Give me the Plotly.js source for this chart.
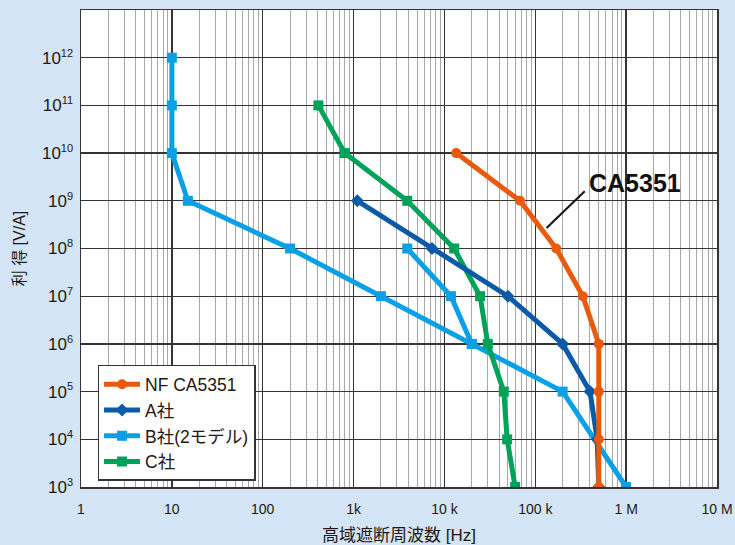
<!DOCTYPE html>
<html>
<head>
<meta charset="utf-8">
<script src="https://cdn.plot.ly/plotly-3.0.1.min.js"></script>
<style>html,body{margin:0;padding:0;background:#d3e5f6;}#chart{width:735px;height:545px;}</style>
</head>
<body>
<div id="chart"></div>
<script>
// Series (frequency Hz, gain V/A)
const nfFreq = [13500, 68000, 170000, 334000, 500000, 500000, 500000, 500000];
const nfGain = [1e10, 1e9, 1e8, 1e7, 1e6, 1e5, 1e4, 1e3];

const aFreq = [1100, 7300, 50000, 200000, 400000, 480000, 500000];
const aGain = [1e9, 1e8, 1e7, 1e6, 1e5, 1e4, 1e3];

// B: two models, separated by null
const bFreq = [10, 10, 10, 15, 200, 2000, 20000, 200000, 1000000, null, 3900, 11800, 20000];
const bGain = [1e12, 1e11, 1e10, 1e9, 1e8, 1e7, 1e6, 1e5, 1e3, null, 1e8, 1e7, 1e6];

const cFreq = [410, 800, 3900, 12800, 24700, 30000, 45000, 49000, 60000];
const cGain = [1e11, 1e10, 1e9, 1e8, 1e7, 1e6, 1e5, 1e4, 1e3];

const xTickVals = [1, 10, 100, 1000, 1e4, 1e5, 1e6, 1e7];
const xTickText = ['1', '10', '100', '1k', '10 k', '100 k', '1 M', '10 M'];
const yTickVals = [1e3, 1e4, 1e5, 1e6, 1e7, 1e8, 1e9, 1e10, 1e11, 1e12];
const yExp = ['3', '4', '5', '6', '7', '8', '9', '10', '11', '12'];
const yTickText = yExp.map(e => '10<sup><span style="font-size:11px">' + e + '</span></sup>');

const minorX = [];
for (let d = 0; d < 7; d++) for (let k = 2; k <= 9; k++) minorX.push(k * Math.pow(10, d));

const FONT = 'Liberation Sans, Arial, Noto Sans CJK JP, sans-serif';
const TXT = '#231815';

function tr(name, x, y, color, symbol) {
  return {
    type: 'scatter', mode: 'lines+markers', name: name, x: x, y: y,
    connectgaps: false,
    line: {color: color, width: 5},
    marker: {color: color, symbol: symbol, size: 10}
  };
}

const data = [
  tr('B社(2モデル)', bFreq, bGain, '#0aa0e6', 'square'),
  tr('C社', cFreq, cGain, '#00a25a', 'square'),
  tr('A社', aFreq, aGain, '#0b5aa8', 'diamond'),
  tr('NF CA5351', nfFreq, nfGain, '#ea5a0c', 'circle')
];
data[0].legendrank = 3; data[1].legendrank = 4; data[2].legendrank = 2; data[3].legendrank = 1;

const layout = {
  width: 735, height: 545,
  paper_bgcolor: '#d3e5f6', plot_bgcolor: '#ffffff',
  margin: {l: 81, r: 18, t: 10, b: 58},
  font: {family: FONT, color: TXT, size: 14},
  showlegend: true,
  legend: {
    x: 0.026, y: 0.256, xanchor: 'left', yanchor: 'top',
    bgcolor: '#ffffff', bordercolor: '#333333', borderwidth: 1.5,
    font: {family: FONT, size: 17.5, color: TXT},
    traceorder: 'normal', tracegroupgap: 0, itemwidth: 36
  },
  xaxis: {
    type: 'log', range: [0, 7], autorange: false,
    tickmode: 'array', tickvals: xTickVals, ticktext: xTickText,
    ticks: 'outside', ticklen: 9, tickcolor: 'rgba(0,0,0,0)',
    showgrid: true, gridcolor: '#3a3232', gridwidth: 1.3,
    minor: {tickmode: 'array', tickvals: minorX, showgrid: true, gridcolor: '#a8a8a8', gridwidth: 1, ticks: ''},
    showline: true, linecolor: '#3a3232', linewidth: 1.5, mirror: true,
    zeroline: false,
    tickfont: {family: FONT, size: 14, color: TXT},
    title: {text: '高域遮断周波数 [Hz]', font: {family: FONT, size: 17, color: TXT}, standoff: 15}
  },
  yaxis: {
    type: 'log', range: [3, 13], autorange: false,
    tickmode: 'array', tickvals: yTickVals, ticktext: yTickText,
    ticks: 'outside', ticklen: 3, tickcolor: 'rgba(0,0,0,0)',
    showgrid: true, gridcolor: '#3a3232', gridwidth: 1.3,
    showline: true, linecolor: '#3a3232', linewidth: 1.5, mirror: true,
    zeroline: false,
    tickfont: {family: FONT, size: 17, color: TXT},
    title: {text: '利 得 [V/A]', font: {family: FONT, size: 16, color: TXT}, standoff: 12}
  },
  shapes: [
    {type: 'line', xref: 'paper', yref: 'paper', x0: 0.732, y0: 0.543, x1: 0.792, y1: 0.62, line: {color: '#111111', width: 2}}
  ],
  annotations: [
    {xref: 'paper', yref: 'paper', x: 0.796, y: 0.638, xanchor: 'left', yanchor: 'middle', showarrow: false,
     text: '<b>CA5351</b>', font: {family: FONT, size: 25, color: '#111111'}},
    {xref: 'paper', yref: 'paper', x: 0.992, y: 1.008, xanchor: 'right', yanchor: 'bottom', showarrow: false,
     text: '<b>周波数特性の比較</b>', font: {family: 'Noto Sans CJK JP, sans-serif', size: 24, color: '#0068b7'}}
  ]
};

Plotly.newPlot('chart', data, layout, {displayModeBar: false, staticPlot: true});
</script>
</body>
</html>
